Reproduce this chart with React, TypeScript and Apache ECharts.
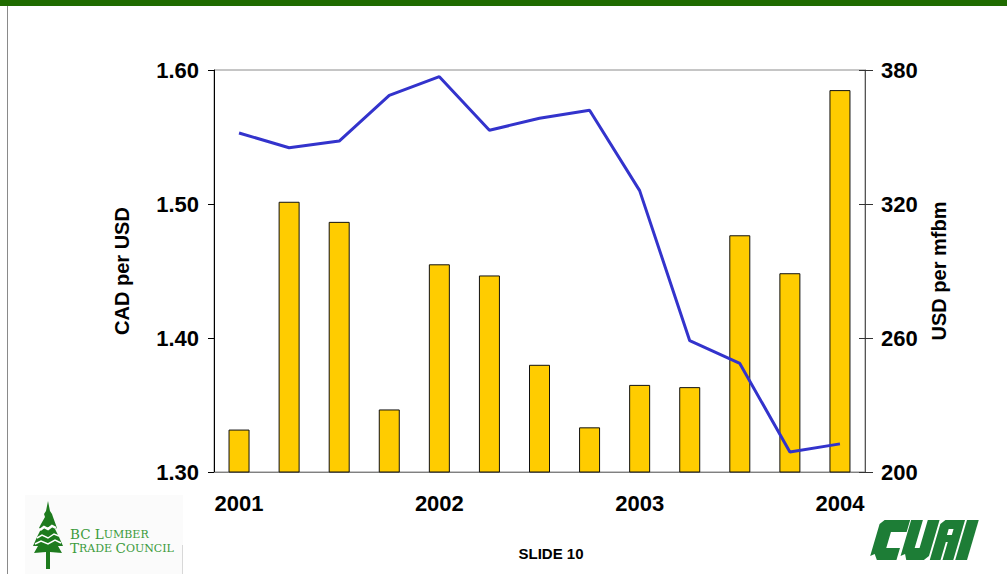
import React, { useEffect, useRef } from "react";
import * as echarts from "echarts";

// ---- Data ----
const quarters: string[] = [
  "2001 Q1", "2001 Q2", "2001 Q3", "2001 Q4",
  "2002 Q1", "2002 Q2", "2002 Q3", "2002 Q4",
  "2003 Q1", "2003 Q2", "2003 Q3", "2003 Q4",
  "2004 Q1",
];
// Lumber price, USD per mfbm (bars, right axis)
const lumberPrice: number[] = [219, 321, 312, 228, 293, 288, 248, 220, 239, 238, 306, 289, 371];
// Exchange rate, CAD per USD (line, left axis)
const exchangeRate: number[] = [1.553, 1.542, 1.547, 1.581, 1.595, 1.555, 1.564, 1.570, 1.510, 1.398, 1.381, 1.315, 1.321];
const leftTicks: number[] = [1.3, 1.4, 1.5, 1.6];
const rightTicks: number[] = [200, 260, 320, 380];

const FONT = "'Liberation Sans', Arial, sans-serif";
const SERIF = "'DejaVu Serif', 'Liberation Serif', serif";

function logoLetters(): any[] {
  // upright letter outlines, then sheared for the italic logo
  const letters: number[][][] = [
    [[4, 0], [30, 0], [30, 12], [14, 12], [14, 28], [28, 28], [28, 40], [8, 40], [4, 34], [0, 36], [0, 4]],
    [[31, 0], [43, 0], [43, 28], [48, 28], [48, 0], [60, 0], [60, 36], [56, 40], [38, 40], [35, 34], [31, 36]],
    [[62, 40], [62, 4], [66, 0], [86, 0], [86, 40], [75, 40], [75, 22], [73, 22], [73, 40]],
    [[88, 0], [100, 0], [100, 40], [88, 40]],
  ];
  const x0 = 869, y0 = 520, k = 0.3, sx = 0.98;
  const out: any[] = letters.map((pts) => ({
    type: "polygon",
    shape: { points: pts.map(([x, y]) => [x0 + (x + (40 - y) * k) * sx, y0 + y]) },
    style: { fill: "#1d7d36" },
  }));
  const hole = [[72, 9], [77, 9], [77, 15], [72, 15]];
  out.push({
    type: "polygon",
    shape: { points: hole.map(([x, y]) => [x0 + (x + (40 - y) * k) * sx, y0 + y]) },
    style: { fill: "#ffffff" },
  });
  return out;
}

export default function App() {
  const ref = useRef<HTMLDivElement>(null);

  useEffect(() => {
    if (!ref.current) return;
    const chart = echarts.init(ref.current, undefined, { renderer: "svg" });

    const treePts = [
      [48, 501], [46, 511], [44, 514], [45, 517], [41, 524], [39, 528], [41, 529], [37, 537],
      [33, 546], [38, 546], [34, 553], [46, 552], [46, 569], [50, 569], [50, 552], [62, 553],
      [58, 546], [63, 546], [59, 537], [55, 529], [57, 528], [53, 517], [52, 514], [50, 511],
    ];

    const richStyle = {
      a: { fontFamily: SERIF, fontSize: 13.5, fill: "#3a9a3a", color: "#3a9a3a" },
      b: { fontFamily: SERIF, fontSize: 11, fill: "#3a9a3a", color: "#3a9a3a" },
    };

    const option: any = {
      animation: false,
      backgroundColor: "#ffffff",
      grid: {
        left: 214,
        right: 142,
        top: 70,
        height: 402,
        show: true,
        borderColor: "#8c8c8c",
        borderWidth: 1,
        backgroundColor: "transparent",
      },
      xAxis: {
        type: "category",
        data: quarters,
        boundaryGap: true,
        axisLine: { show: true, lineStyle: { color: "#808080", width: 1 } },
        axisTick: { show: false },
        axisLabel: {
          interval: 3,
          formatter: (v: string) => v.slice(0, 4),
          color: "#000",
          fontFamily: FONT,
          fontWeight: "bold",
          fontSize: 22,
          margin: 20,
        },
        splitLine: { show: false },
      },
      yAxis: [
        {
          type: "value",
          position: "left",
          min: leftTicks[0],
          max: leftTicks[leftTicks.length - 1],
          interval: 0.1,
          name: "CAD per USD",
          nameLocation: "middle",
          nameRotate: 90,
          nameGap: 82,
          nameTextStyle: { color: "#000", fontFamily: FONT, fontWeight: "bold", fontSize: 20 },
          axisLine: { show: true, lineStyle: { color: "#000", width: 1 } },
          axisTick: { show: true, length: 6, lineStyle: { color: "#000" } },
          axisLabel: {
            formatter: (v: number) => v.toFixed(2),
            color: "#000",
            fontFamily: FONT,
            fontWeight: "bold",
            fontSize: 22,
            margin: 15,
          },
          splitLine: { show: false },
        },
        {
          type: "value",
          position: "right",
          min: rightTicks[0],
          max: rightTicks[rightTicks.length - 1],
          interval: 60,
          name: "USD per mfbm",
          nameLocation: "middle",
          nameRotate: 90,
          nameGap: 64,
          nameTextStyle: { color: "#000", fontFamily: FONT, fontWeight: "bold", fontSize: 20 },
          axisLine: { show: true, lineStyle: { color: "#555", width: 1 } },
          axisTick: { show: true, length: 8, lineStyle: { color: "#333" } },
          axisLabel: {
            color: "#000",
            fontFamily: FONT,
            fontWeight: "bold",
            fontSize: 22,
            margin: 16,
          },
          splitLine: { show: false },
        },
        {
          type: "value",
          position: "right",
          min: rightTicks[0],
          max: rightTicks[rightTicks.length - 1],
          interval: 60,
          axisLine: { show: false },
          axisTick: { show: true, inside: true, length: 6, lineStyle: { color: "#333" } },
          axisLabel: { show: false },
          splitLine: { show: false },
        },
      ],
      series: [
        {
          name: "USD per mfbm",
          type: "bar",
          yAxisIndex: 1,
          data: lumberPrice,
          barWidth: 21,
          itemStyle: { color: "#FFCC00", borderColor: "#111", borderWidth: 1 },
        },
        {
          name: "CAD per USD",
          type: "line",
          yAxisIndex: 0,
          data: exchangeRate,
          symbol: "none",
          lineStyle: { color: "#3333CC", width: 3 },
          z: 5,
        },
      ],
      graphic: [
        { type: "rect", shape: { x: 0, y: 0, width: 1007, height: 6 }, style: { fill: "#1f6b00" } },
        { type: "line", shape: { x1: 7.5, y1: 6, x2: 7.5, y2: 574 }, style: { stroke: "#8a8a8a", lineWidth: 1 } },
        { type: "rect", shape: { x: 25, y: 495, width: 158, height: 79 }, style: { fill: "#fbfbfb" } },
        { type: "line", shape: { x1: 182.5, y1: 545, x2: 182.5, y2: 574 }, style: { stroke: "#d8d8d8", lineWidth: 1 } },
        { type: "polygon", shape: { points: treePts }, style: { fill: "#1e7b1e" } },
        {
          type: "polyline",
          shape: { points: [[40, 530], [44, 527], [48, 529], [52, 526], [56, 528]] },
          style: { stroke: "#ffffff", lineWidth: 2.5, fill: "none" },
        },
        {
          type: "polyline",
          shape: { points: [[37, 538], [42, 535], [48, 538], [54, 534], [59, 536]] },
          style: { stroke: "#ffffff", lineWidth: 1.5, fill: "none" },
        },
        {
          type: "polyline",
          shape: { points: [[35, 544], [41, 541], [48, 544], [55, 540], [61, 543]] },
          style: { stroke: "#ffffff", lineWidth: 1.5, fill: "none" },
        },
        {
          type: "text",
          x: 70,
          y: 527,
          style: { text: "{a|BC L}{b|UMBER}", rich: richStyle },
        },
        {
          type: "text",
          x: 70,
          y: 541,
          style: { text: "{a|T}{b|RADE }{a|C}{b|OUNCIL}", rich: richStyle },
        },
        {
          type: "text",
          x: 551,
          y: 553,
          style: {
            text: "SLIDE 10",
            fill: "#000",
            font: "bold 15px 'Liberation Sans', Arial, sans-serif",
            align: "center",
            verticalAlign: "middle",
          },
        },
        ...logoLetters(),
      ],
    };

    chart.setOption(option);
    return () => chart.dispose();
  }, []);

  return (
    <div
      ref={ref}
      style={{ position: "fixed", left: 0, top: 0, width: 1007, height: 574, background: "#fff" }}
    />
  );
}
